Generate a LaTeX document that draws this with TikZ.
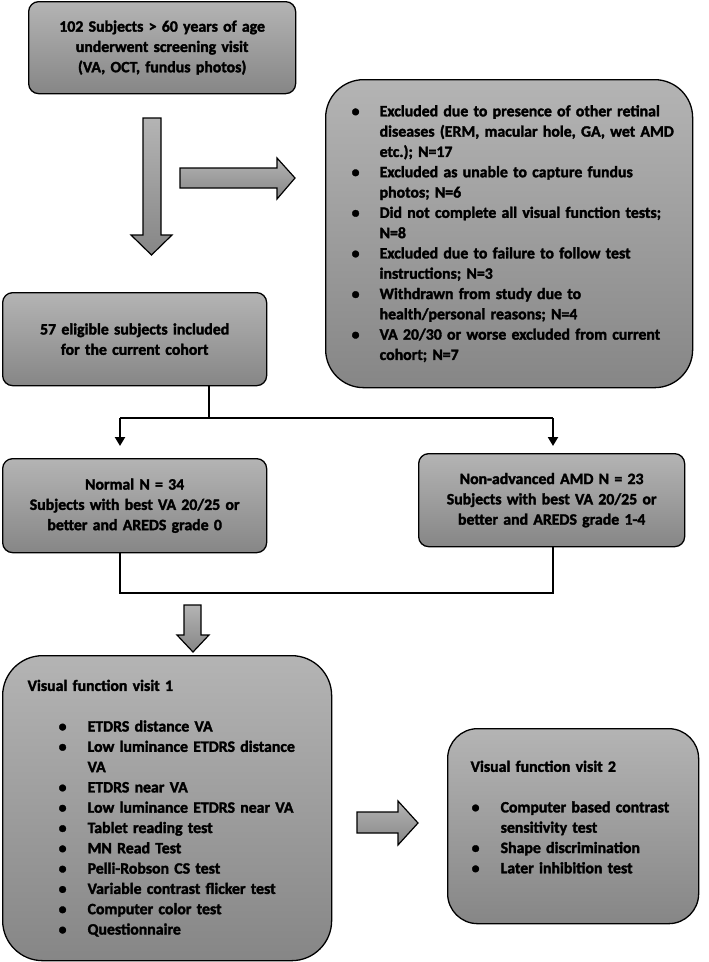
\documentclass[tikz,border=0pt]{standalone}
\usepackage{fontspec}
\setmainfont{Carlito}[BoldFeatures={FakeBold=2}]
\usetikzlibrary{arrows.meta}

\definecolor{boxtop}{RGB}{180,180,180}
\definecolor{boxbot}{RGB}{134,134,134}

\newlength\bulin
\newlength\bulgap
\newcommand\itm[1]{\mbox{\hspace*{\bulin}\makebox[\bulgap][l]{\textbullet}#1}}
\newcommand\cnt[1]{\mbox{\hspace*{\bulin}\hspace*{\bulgap}#1}}

\tikzset{
  box/.style={draw=black, line width=1.3pt, top color=boxtop, bottom color=boxbot,
    font=\fontsize{15.8}{20.3}\selectfont\bfseries, inner ysep=0pt, anchor=north west},
  flow/.style={line width=2pt},
  blockarrow/.style={draw=black, line width=1.2pt, top color=boxtop, bottom color=boxbot},
}

\begin{document}
\begin{tikzpicture}[x=1pt, y=-1pt]
    \useasboundingbox (0,0) rectangle (709,962);

    % boxes
    \node[box, rounded corners=10pt, minimum width=267pt, minimum height=92pt,
        text width=257pt, inner xsep=5pt, align=center] (scr) at (28,1)
        {102 Subjects > 60 years of age\\underwent screening visit\\(VA, OCT, fundus photos)};
    \node[box, rounded corners=38pt, minimum width=367pt, minimum height=308pt,
        text width=323pt, inner xsep=22pt, align=left,
        execute at begin node={\setlength\bulin{4pt}\setlength\bulgap{28pt}}] (excl) at (325,79)
        {\itm{Excluded due to presence of other retinal}\\
         \cnt{diseases (ERM, macular hole, GA, wet AMD}\\
         \cnt{etc.); N=17}\\
         \itm{Excluded as unable to capture fundus}\\
         \cnt{photos; N=6}\\
         \itm{Did not complete all visual function tests;}\\
         \cnt{N=8}\\
         \itm{Excluded due to failure to follow test}\\
         \cnt{instructions; N=3}\\
         \itm{Withdrawn from study due to}\\
         \cnt{health/personal reasons; N=4}\\
         \itm{VA 20/30 or worse excluded from current}\\
         \cnt{cohort; N=7}};
    \node[box, rounded corners=10pt, minimum width=264pt, minimum height=93pt,
        text width=254pt, inner xsep=5pt, align=center] (elig) at (2,292)
        {57 eligible subjects included\\for the current cohort};
    \node[box, rounded corners=10pt, minimum width=264pt, minimum height=94pt,
        text width=254pt, inner xsep=5pt, align=center] (normal) at (2,458)
        {Normal N = 34\\Subjects with best VA 20/25 or\\better and AREDS grade 0};
    \node[box, rounded corners=10pt, minimum width=266pt, minimum height=93pt,
        text width=256pt, inner xsep=5pt, align=center] (amd) at (418,453)
        {Non-advanced AMD N = 23\\Subjects with best VA 20/25 or\\better and AREDS grade 1-4};
    \node[box, rounded corners=40pt, minimum width=329pt, minimum height=305pt,
        text width=279pt, inner xsep=25pt, align=left,
        execute at begin node={\setlength\bulin{31pt}\setlength\bulgap{29pt}}] (visa) at (2,655)
        {Visual function visit 1\\[20.3pt]
         \itm{ETDRS distance VA}\\
         \itm{Low luminance ETDRS distance}\\
         \cnt{VA}\\
         \itm{ETDRS near VA}\\
         \itm{Low luminance ETDRS near VA}\\
         \itm{Tablet reading test}\\
         \itm{MN Read Test}\\
         \itm{Pelli-Robson CS test}\\
         \itm{Variable contrast flicker test}\\
         \itm{Computer color test}\\
         \itm{Questionnaire}};
    \node[box, rounded corners=30pt, minimum width=251pt, minimum height=195pt,
        text width=205pt, inner xsep=23pt, align=left,
        execute at begin node={\setlength\bulin{1pt}\setlength\bulgap{29pt}}] (visb) at (447,728)
        {Visual function visit 2\\[20.3pt]
         \itm{Computer based contrast}\\
         \cnt{sensitivity test}\\
         \itm{Shape discrimination}\\
         \itm{Later inhibition test}\\[-2pt]\mbox{}};

    % block arrows
    \draw[blockarrow] (143,118) -- (161,118) -- (161,235) -- (172,235)
        -- (151.5,255) -- (131,235) -- (143,235) -- cycle;
    \draw[blockarrow] (180,168) -- (277,168) -- (277,158) -- (295,178)
        -- (277,199) -- (277,188) -- (180,188) -- cycle;
    \draw[blockarrow] (184,605) -- (201,605) -- (201,635) -- (209,635)
        -- (193,652) -- (177,635) -- (184,635) -- cycle;
    \draw[blockarrow] (357,812) -- (398,812) -- (398,801) -- (418,823)
        -- (398,845) -- (398,833) -- (357,833) -- cycle;

    % split and merge
    \coordinate (split) at (209,418);
    \coordinate (lt) at (120,418);
    \coordinate (rt) at (553,418);
    \coordinate (bl) at (120,593);
    \coordinate (br) at (553,593);
    \draw[flow] (elig.south -| split) -- (split);
    \draw[flow] (lt) -- (rt);
    \draw[flow, -{Triangle[width=10pt,length=9pt]}, shorten >=12pt] (lt) -- (lt |- normal.north);
    \draw[flow, -{Triangle[width=10pt,length=9pt]}, shorten >=7pt] (rt) -- (rt |- amd.north);
    \draw[flow] (normal.south -| bl) -- (bl) -- (br) -- (amd.south -| br);
\end{tikzpicture}
\end{document}
